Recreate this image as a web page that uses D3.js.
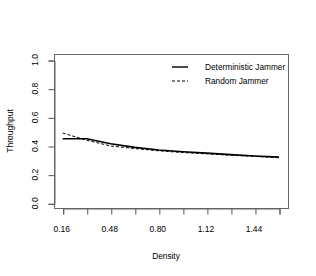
<!DOCTYPE html>
<html>
<head>
<meta charset="utf-8">
<script src="https://cdn.jsdelivr.net/npm/d3@7"></script>
<style>
body { margin: 0; background: #fff; }
text { font-family: "Liberation Sans", Arial, sans-serif; fill: #000; }
</style>
</head>
<body>
<svg id="chart"></svg>
<script>
const density = [0.16, 0.32, 0.48, 0.64, 0.80, 0.96, 1.12, 1.28, 1.44, 1.60];
const deterministic = [0.45, 0.45, 0.415, 0.39, 0.372, 0.36, 0.35, 0.34, 0.33, 0.322];
const random = [0.49, 0.44, 0.40, 0.382, 0.366, 0.354, 0.345, 0.335, 0.327, 0.318];
const xLabelTicks = [0.16, 0.48, 0.80, 1.12, 1.44];
const yTicks = [0, 0.2, 0.4, 0.6, 0.8, 1.0];
const seriesNames = ["Deterministic Jammer", "Random Jammer"];

const width = 316, height = 276;
const box = {left: 54, right: 288, top: 54, bottom: 208};

const svg = d3.select("#chart")
    .attr("width", width)
    .attr("height", height);

const x = d3.scaleLinear()
    .domain([0.16, 1.60])
    .range([62.7, 279]);

const y = d3.scaleLinear()
    .domain([0, 1])
    .range([203.3, 60]);

// plot box
svg.append("rect")
    .attr("x", box.left + 0.5)
    .attr("y", box.top + 0.5)
    .attr("width", box.right - box.left)
    .attr("height", box.bottom - box.top)
    .attr("fill", "none")
    .attr("stroke", "#666")
    .attr("stroke-width", 1);

// x axis
const xAxis = svg.append("g")
    .attr("transform", `translate(0.5,${box.bottom + 0.5})`)
    .call(d3.axisBottom(x).tickValues(density).tickSize(6).tickFormat(""));
xAxis.select(".domain").attr("stroke", "#666");
xAxis.selectAll(".tick line").attr("stroke", "#555");

svg.append("g").selectAll("text")
    .data(xLabelTicks)
    .join("text")
    .attr("x", d => x(d) - 1)
    .attr("y", 232)
    .attr("text-anchor", "middle")
    .attr("font-size", 8.5)
    .text(d => d.toFixed(2));

// y axis
const yAxis = svg.append("g")
    .attr("transform", `translate(${box.left + 0.5},0.5)`)
    .call(d3.axisLeft(y).tickValues(yTicks).tickSize(6).tickFormat(""));
yAxis.select(".domain").attr("stroke", "#666");
yAxis.selectAll(".tick line").attr("stroke", "#555");

svg.append("g").selectAll("text")
    .data(yTicks)
    .join("text")
    .attr("transform", d => `translate(37.5,${y(d)}) rotate(-90)`)
    .attr("text-anchor", "middle")
    .attr("font-size", 8.5)
    .text(d => d.toFixed(1));

// axis titles
svg.append("text")
    .attr("x", 166)
    .attr("y", 259)
    .attr("text-anchor", "middle")
    .attr("font-size", 8.3)
    .text("Density");

svg.append("text")
    .attr("transform", `translate(13,${(box.top + box.bottom) / 2}) rotate(-90)`)
    .attr("text-anchor", "middle")
    .attr("font-size", 8.5)
    .text("Throughput");

// lines
const line = d3.line()
    .x((d, i) => x(density[i]))
    .y(d => y(d));

svg.append("path")
    .datum(random)
    .attr("fill", "none")
    .attr("stroke", "#000")
    .attr("stroke-width", 1)
    .attr("stroke-dasharray", "3,2")
    .attr("d", line);

svg.append("path")
    .datum(deterministic)
    .attr("fill", "none")
    .attr("stroke", "#000")
    .attr("stroke-width", 1.6)
    .attr("d", line);

// legend
const legend = svg.append("g");
seriesNames.forEach((name, i) => {
    const ly = 67 + i * 14;
    legend.append("line")
        .attr("x1", 172).attr("x2", 188)
        .attr("y1", ly).attr("y2", ly)
        .attr("stroke", "#000")
        .attr("stroke-width", i === 0 ? 1.4 : 1)
        .attr("stroke-dasharray", i === 0 ? null : "3,2");
    legend.append("text")
        .attr("x", 205)
        .attr("y", ly + 3)
        .attr("font-size", 8.3)
        .text(name);
});
</script>
</body>
</html>
